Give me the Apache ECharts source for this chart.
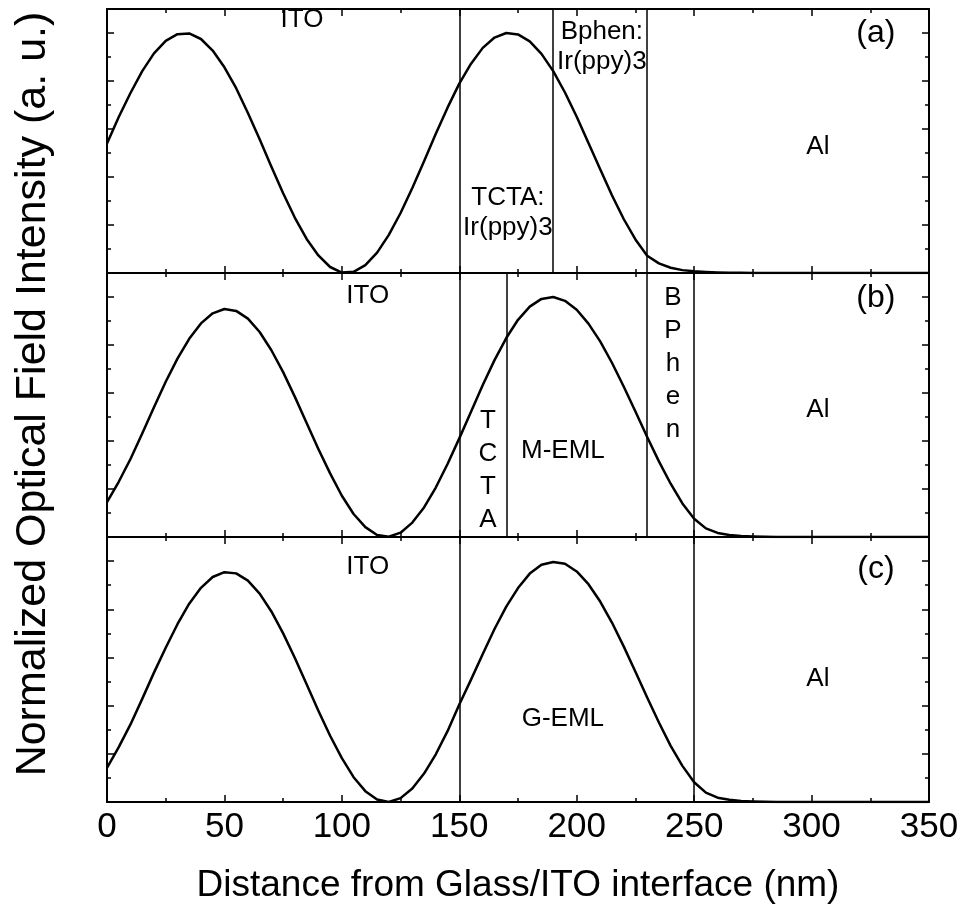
<!DOCTYPE html>
<html lang="en" style="height: 100%">
<head>
  <meta charset="utf-8">
</head>
<body style="height: 100%; margin: 0; background-color:#ffffff;">
  <div id="container" style="width: 964px; height: 911px"></div>

<script src="https://fastly.jsdelivr.net/npm/echarts@6/dist/echarts.min.js"></script>

<script>
  var dom = document.getElementById('container');
  var myChart = echarts.init(dom);

  // distance from glass/ITO interface (nm)
  var distance = [0, 5, 10, 15, 20, 25, 30, 35, 40, 45, 50, 55, 60, 65, 70, 75, 80, 85, 90, 95,
    100, 105, 110, 115, 120, 125, 130, 135, 140, 145, 150, 155, 160, 165, 170, 175, 180, 185, 190, 195,
    200, 205, 210, 215, 220, 225, 230, 235, 240, 245, 250, 255, 260, 265, 270, 275, 280, 285, 290, 295,
    300, 305, 310, 315, 320, 325, 330, 335, 340, 345, 350];

  // normalized optical field intensity, panel (a)
  var intensityA = [0.54, 0.65, 0.75, 0.841, 0.915, 0.967, 0.995, 0.998, 0.975, 0.927,
    0.857, 0.77, 0.667, 0.557, 0.443, 0.332, 0.23, 0.142, 0.073, 0.025,
    0.002, 0.005, 0.033, 0.085, 0.159, 0.25, 0.354, 0.466, 0.58, 0.689,
    0.789, 0.872, 0.938, 0.981, 1.0, 0.994, 0.965, 0.913, 0.841, 0.752,
    0.651, 0.542, 0.432, 0.324, 0.225, 0.14, 0.072, 0.04, 0.022, 0.012,
    0.007, 0.004, 0.002, 0.001, 0.001, 0, 0, 0, 0, 0,
    0, 0, 0, 0, 0, 0, 0, 0, 0, 0, 0];

  // panel (b)
  var intensityB = [0.145, 0.23, 0.325, 0.431, 0.541, 0.647, 0.743, 0.826, 0.89, 0.932,
    0.95, 0.942, 0.91, 0.854, 0.778, 0.687, 0.584, 0.475, 0.367, 0.265,
    0.172, 0.096, 0.041, 0.008, 0.001, 0.018, 0.06, 0.123, 0.206, 0.304,
    0.411, 0.522, 0.633, 0.737, 0.829, 0.905, 0.96, 0.992, 1.0, 0.984,
    0.947, 0.889, 0.815, 0.726, 0.627, 0.523, 0.417, 0.315, 0.222, 0.14,
    0.076, 0.036, 0.017, 0.008, 0.004, 0.002, 0.001, 0, 0, 0,
    0, 0, 0, 0, 0, 0, 0, 0, 0, 0, 0];

  // panel (c)
  var intensityC = [0.142, 0.228, 0.322, 0.428, 0.537, 0.64, 0.738, 0.823, 0.889, 0.934,
    0.954, 0.949, 0.919, 0.865, 0.791, 0.7, 0.598, 0.489, 0.379, 0.275,
    0.182, 0.103, 0.045, 0.01, 0, 0.016, 0.056, 0.118, 0.198, 0.294,
    0.405, 0.508, 0.614, 0.718, 0.811, 0.888, 0.948, 0.985, 0.996, 0.989,
    0.957, 0.904, 0.832, 0.745, 0.646, 0.541, 0.434, 0.33, 0.233, 0.15,
    0.082, 0.039, 0.018, 0.009, 0.004, 0.002, 0.001, 0, 0, 0,
    0, 0, 0, 0, 0, 0, 0, 0, 0, 0, 0];

  // layer interfaces (nm)
  var layersA = [150, 190, 230];
  var layersB = [150, 170, 230, 250];
  var layersC = [150, 250];

  // layer names [x, y, text]
  var notesA = [[83, 1.054, 'ITO'], [170.7, 0.25, 'TCTA:\nIr(ppy)3'], [210.7, 0.942, 'Bphen:\nIr(ppy)3'],
    [302.7, 0.525, 'Al'], [327.4, 1.0, '(a)']];
  var notesB = [[111, 1.004, 'ITO'], [162.2, 0.279, 'T\nC\nT\nA'], [194.1, 0.358, 'M-EML'],
    [241, 0.721, 'B\nP\nh\ne\nn'], [302.7, 0.529, 'Al'], [327.4, 0.996, '(b)']];
  var notesC = [[111, 0.975, 'ITO'], [194.1, 0.345, 'G-EML'], [302.7, 0.51, 'Al'], [327.4, 0.967, '(c)']];

  var FONT = 'Liberation Sans, Arial, sans-serif';
  var panels = [
    { top: 9, height: 264, values: intensityA, layers: layersA, notes: notesA },
    { top: 273, height: 264, values: intensityB, layers: layersB, notes: notesB },
    { top: 537, height: 265, values: intensityC, layers: layersC, notes: notesC }
  ];

  function xAxis(g, pos, labels) {
    return {
      type: 'value', gridIndex: g, position: pos, min: 0, max: 350, interval: 50,
      axisLine: { show: true, onZero: false, lineStyle: { color: '#000', width: 2 } },
      axisTick: { show: true, inside: true, length: 7, lineStyle: { color: '#000', width: 1.5 } },
      minorTick: { show: true, splitNumber: 2, length: 4, lineStyle: { color: '#000', width: 1.5 } },
      splitLine: { show: false },
      axisLabel: { show: labels, color: '#000', fontSize: 35, fontFamily: FONT, margin: 8 },
      name: labels ? 'Distance from Glass/ITO interface (nm)' : '',
      nameLocation: 'middle', nameGap: 65,
      nameTextStyle: { color: '#000', fontSize: 37, fontFamily: FONT }
    };
  }

  function yAxis(g, pos, step, len, line) {
    return {
      type: 'value', gridIndex: g, position: pos, min: 0, max: 1.1, interval: step,
      axisLine: { show: line, onZero: false, lineStyle: { color: '#000', width: 2 } },
      axisTick: { show: true, inside: true, length: len, lineStyle: { color: '#000', width: 1.5 } },
      axisLabel: { show: false },
      splitLine: { show: false }
    };
  }

  function noteLabel(text) {
    var stacked = text.indexOf('\n') >= 0 && text.length < 12;
    return {
      show: true, position: 'inside', color: '#000', fontFamily: FONT,
      textBorderWidth: 0, opacity: 1,
      fontSize: text.charAt(0) === '(' ? 32 : 26,
      lineHeight: stacked ? 33 : 30,
      formatter: function (p) { return p.value[2]; }
    };
  }

  var grids = [], xAxes = [], yAxes = [], series = [];
  panels.forEach(function (p, g) {
    grids.push({ left: 107, right: 35, top: p.top, height: p.height });
    xAxes.push(xAxis(g, 'bottom', g === 2), xAxis(g, 'top', false));
    yAxes.push(yAxis(g, 'left', 0.2, 7, true), yAxis(g, 'left', 0.1, 4, false),
      yAxis(g, 'right', 0.2, 7, true), yAxis(g, 'right', 0.1, 4, false));
    series.push({
      type: 'line', xAxisIndex: 2 * g, yAxisIndex: 4 * g,
      data: distance.map(function (d, i) { return [d, p.values[i]]; }),
      showSymbol: false, smooth: false,
      lineStyle: { color: '#000', width: 2.5, join: 'round' },
      markLine: {
        symbol: 'none', silent: true, label: { show: false },
        lineStyle: { color: '#000', width: 1.5, type: 'solid' },
        data: p.layers.map(function (v) { return { xAxis: v }; })
      }
    });
    series.push({
      type: 'scatter', xAxisIndex: 2 * g, yAxisIndex: 4 * g,
      symbolSize: 0, silent: true,
      itemStyle: { color: '#000', opacity: 1 },
      data: p.notes.map(function (n) { return { value: n, label: noteLabel(n[2]) }; })
    });
  });

  var option = {
    animation: false,
    grid: grids,
    xAxis: xAxes,
    yAxis: yAxes,
    series: series,
    graphic: [{
      type: 'text', x: 33, y: 394, rotation: Math.PI / 2,
      style: {
        text: 'Normalized Optical Field Intensity (a. u.)',
        fontSize: 43, fontFamily: FONT, fill: '#000',
        align: 'center', verticalAlign: 'middle'
      }
    }]
  };

  myChart.setOption(option);

  window.addEventListener('resize', myChart.resize);
</script>

</body>
</html>
